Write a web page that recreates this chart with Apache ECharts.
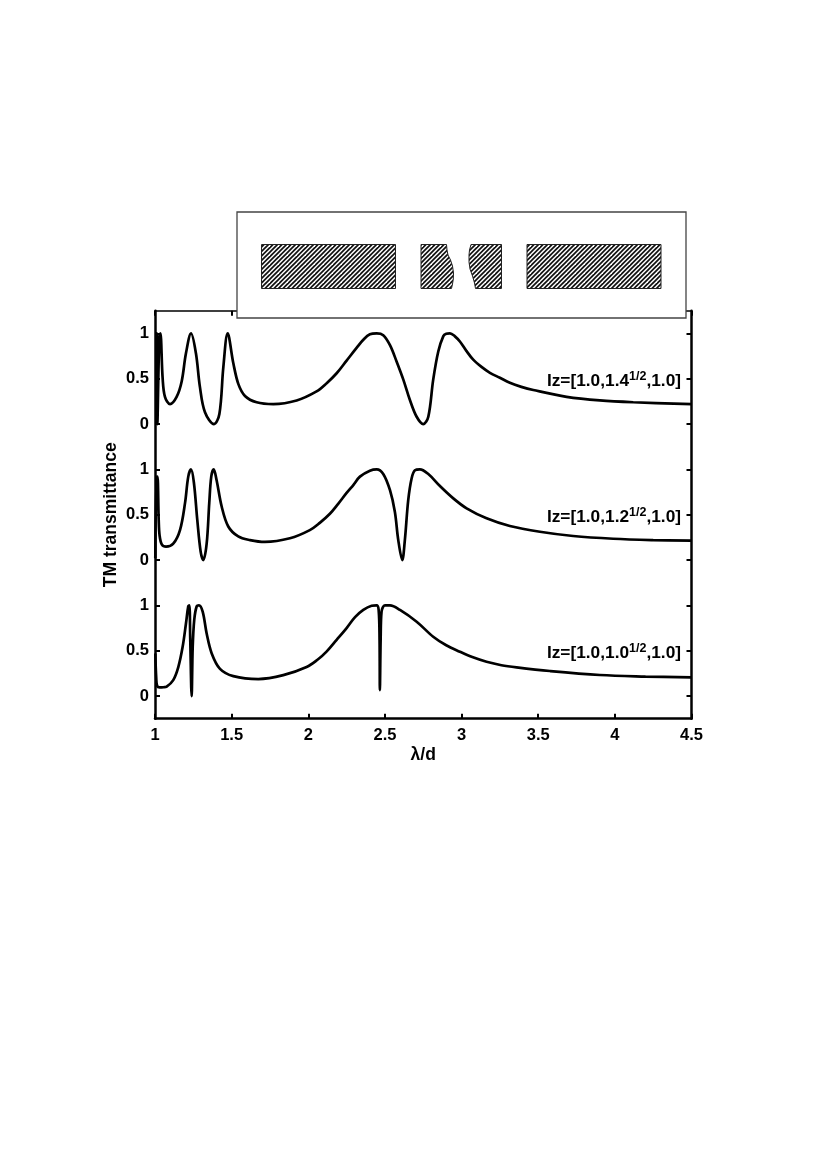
<!DOCTYPE html>
<html><head><meta charset="utf-8">
<style>html,body{margin:0;padding:0;background:#fff}#c{width:817px;height:1176px}</style>
<script src="https://cdn.jsdelivr.net/npm/echarts@6/dist/echarts.min.js"></script>
</head><body><div id="c"></div>
<script>
const xTicks=[1,1.5,2,2.5,3,3.5,4,4.5];
const yTicks=[0,0.5,1,1.5,2,2.5,3,3.5,4];
const yTickLabels=['0','0.5','1','0','0.5','1','0','0.5','1'];
const offsets=[0,1.5,3];
const curveNames=['1.0','1.2','1.4'];
const lambdaBottom=[1.002,1.008,1.014,1.03,1.055,1.076,1.119,1.152,1.18,1.202,1.217,1.224,1.23,1.239,1.246,1.256,1.272,1.287,1.311,1.337,1.37,1.424,1.511,1.674,1.837,1.989,2.06,2.119,2.185,2.25,2.305,2.359,2.413,2.446,2.459,2.465,2.467,2.472,2.478,2.5,2.533,2.598,2.707,2.815,2.9,2.989,3.07,3.163,3.26,3.359,3.576,3.902,4.2,4.5];
const tBottom=[0.47,0.2,0.11,0.095,0.097,0.104,0.176,0.32,0.54,0.8,0.99,1,0.62,0,0.54,0.84,0.99,1,0.93,0.69,0.47,0.3,0.22,0.187,0.23,0.32,0.4,0.49,0.62,0.75,0.87,0.95,0.995,1,0.95,0.62,0.066,0.62,0.93,1,1,0.95,0.82,0.654,0.56,0.489,0.43,0.378,0.34,0.316,0.276,0.232,0.215,0.205];
const lambdaMiddle=[1.002,1.01,1.016,1.024,1.03,1.045,1.072,1.119,1.163,1.196,1.217,1.235,1.254,1.276,1.298,1.315,1.337,1.354,1.367,1.383,1.402,1.435,1.478,1.543,1.62,1.717,1.88,2.01,2.075,2.141,2.195,2.25,2.295,2.337,2.402,2.446,2.489,2.533,2.565,2.587,2.613,2.63,2.652,2.674,2.696,2.728,2.783,2.859,2.946,3.033,3.163,3.315,3.511,3.728,3.989,4.25,4.5];
const tMiddle=[0.02,0.92,0.92,0.45,0.27,0.17,0.147,0.18,0.33,0.63,0.92,1,0.85,0.44,0.09,0,0.18,0.63,0.92,1,0.88,0.59,0.37,0.26,0.22,0.2,0.24,0.33,0.41,0.51,0.62,0.74,0.83,0.92,0.985,1,0.95,0.77,0.53,0.22,0,0.22,0.66,0.9,0.99,1,0.948,0.816,0.68,0.57,0.46,0.375,0.312,0.265,0.235,0.22,0.213];
const lambdaTop=[1.003,1.012,1.015,1.028,1.035,1.05,1.065,1.098,1.141,1.174,1.202,1.235,1.267,1.293,1.326,1.385,1.42,1.446,1.474,1.511,1.544,1.587,1.663,1.772,1.924,2.054,2.12,2.185,2.25,2.315,2.359,2.402,2.446,2.489,2.533,2.576,2.62,2.663,2.707,2.75,2.783,2.815,2.848,2.881,2.9,2.924,2.955,2.989,3.03,3.076,3.13,3.185,3.25,3.315,3.39,3.468,3.685,3.902,4.12,4.5];
const tTop=[1,1,0,0.95,1,0.5,0.3,0.22,0.3,0.47,0.78,1,0.78,0.41,0.13,0,0.11,0.63,1,0.67,0.44,0.31,0.24,0.22,0.26,0.36,0.45,0.56,0.7,0.84,0.93,0.99,1,0.98,0.87,0.69,0.49,0.265,0.08,0,0.08,0.49,0.8,0.97,0.995,1,0.97,0.91,0.81,0.71,0.63,0.565,0.51,0.455,0.41,0.375,0.3,0.26,0.24,0.22];
const curves=[[lambdaBottom,tBottom],[lambdaMiddle,tMiddle],[lambdaTop,tTop]];

const tile=document.createElement('canvas');tile.width=9;tile.height=9;
(function(){const g=tile.getContext('2d');g.fillStyle='#fff';g.fillRect(0,0,9,9);g.strokeStyle='#111';g.lineWidth=1.7;
[-4.5,0,4.5,9,13.5,18].forEach(c=>{g.beginPath();g.moveTo(c+2,-2);g.lineTo(c-11,11);g.stroke();});})();
const hatchStyle={fill:{image:tile,repeat:'repeat'},stroke:'#222',lineWidth:1};

const font='"Liberation Sans",Arial,sans-serif';
const labelStyle={fontFamily:font,fontWeight:'bold',fontSize:16.5,color:'#000'};
const nameStyle={fontFamily:font,fontWeight:'bold',fontSize:17.5,color:'#000'};
const axisBase={axisLine:{show:true,onZero:false,lineStyle:{color:'#000',width:2.5}},splitLine:{show:false}};
const tick={show:true,inside:true,length:5,lineStyle:{color:'#000',width:2}};

function curveLabel(name,y){
  return {type:'text',z:30,x:681,y:y,style:{
    text:'{a|Iz=[1.0,'+name+'}{s|1/2}{a|,1.0]}',align:'right',verticalAlign:'middle',fontFamily:font,
    rich:{a:{fontFamily:font,fontWeight:'bold',fontSize:17.3,fill:'#000',verticalAlign:'bottom',lineHeight:20},
          s:{fontFamily:font,fontWeight:'bold',fontSize:12.5,fill:'#000',verticalAlign:'top',lineHeight:20}}}};
}

const chart=echarts.init(document.getElementById('c'),null,{renderer:'canvas'});
chart.setOption({
  animation:false,backgroundColor:'#fff',
  grid:{left:155,top:310.7,width:536.5,height:408},
  xAxis:[
    Object.assign({type:'value',min:1,max:4.5,position:'bottom',
      axisTick:Object.assign({},tick,{customValues:xTicks}),
      axisLabel:Object.assign({},labelStyle,{customValues:xTicks,margin:8,hideOverlap:false,showMinLabel:true,showMaxLabel:true}),
      name:'λ/d',nameLocation:'middle',nameGap:27,nameMoveOverlap:false,nameTextStyle:nameStyle},axisBase),
    Object.assign({type:'value',min:1,max:4.5,position:'top',
      axisTick:Object.assign({},tick,{customValues:xTicks}),axisLabel:{show:false}},axisBase,
      {axisLine:{show:true,onZero:false,lineStyle:{color:'#000',width:1.5}}})
  ],
  yAxis:[
    Object.assign({type:'value',min:-0.25,max:4.25,position:'left',
      axisTick:Object.assign({},tick,{customValues:yTicks}),
      axisLabel:Object.assign({},labelStyle,{customValues:yTicks,margin:6,
        formatter:v=>yTickLabels[yTicks.indexOf(v)]}),
      name:'TM transmittance',nameLocation:'middle',nameGap:35,nameMoveOverlap:false,nameTextStyle:nameStyle},axisBase),
    Object.assign({type:'value',min:-0.25,max:4.25,position:'right',
      axisTick:Object.assign({},tick,{customValues:yTicks}),axisLabel:{show:false}},axisBase)
  ],
  series:curves.map((c,i)=>({
    name:curveNames[i],type:'line',showSymbol:false,smooth:0.35,clip:true,
    lineStyle:{color:'#000',width:2.7},
    data:c[0].map((x,k)=>[x,c[1][k]+offsets[i]])
  })),
  graphic:[
    {type:'rect',z:20,shape:{x:237,y:212,width:449,height:106},style:{fill:'#fff',stroke:'#444',lineWidth:1.3}},
    {type:'rect',z:21,shape:{x:261.5,y:244.5,width:134,height:44},style:hatchStyle},
    {type:'rect',z:21,shape:{x:527,y:244.5,width:134,height:44},style:hatchStyle},
    {type:'polygon',z:21,shape:{points:[[421,244.5],[446.5,244.5],[447,250],[448,255],[450.5,260],[452.5,266],[453.5,273],[453.3,279],[452.5,284],[451.5,288.5],[421,288.5]]},style:hatchStyle},
    {type:'polygon',z:21,shape:{points:[[471,244.5],[501.5,244.5],[501.5,288.5],[475.5,288.5],[474.5,283],[472.5,276],[470,269],[469,262],[469,255],[469.5,250]]},style:hatchStyle},
    curveLabel('1.4',380),curveLabel('1.2',516),curveLabel('1.0',652)
  ]
});
</script></body></html>
